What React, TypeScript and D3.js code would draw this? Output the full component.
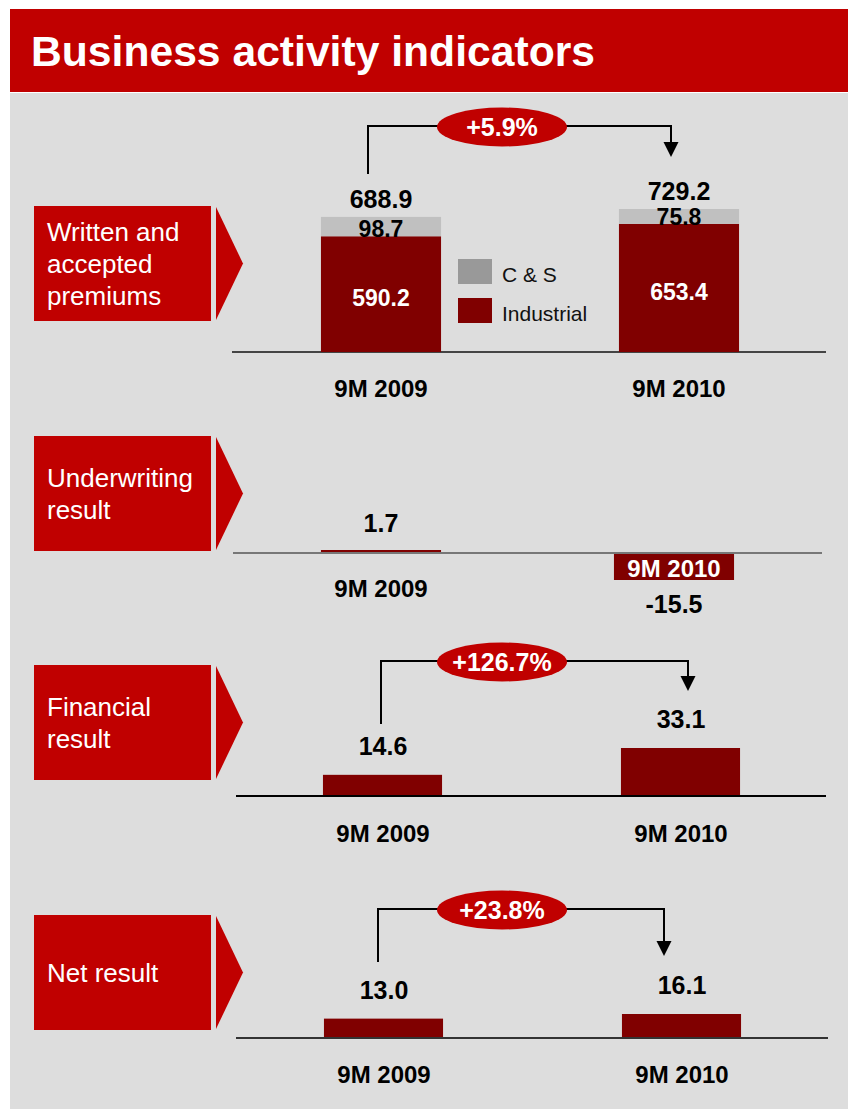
import React from "react";
import * as d3 from "d3";

const categories = ["9M 2009", "9M 2010"];
const industrialPremiums = [590.2, 653.4];
const csPremiums = [98.7, 75.8];
const premiumTotals = [688.9, 729.2];
const underwritingResult = [1.7, -15.5];
const financialResult = [14.6, 33.1];
const netResult = [13.0, 16.1];
const growthLabels = ["+5.9%", "+126.7%", "+23.8%"];
const legendLabels = ["C & S", "Industrial"];
const panelTitles = [
  ["Written and", "accepted", "premiums"],
  ["Underwriting", "result"],
  ["Financial", "result"],
  ["Net result"],
];

const RED = "#c00000";
const DARK = "#800000";
const CS = "#c0c0c0";
const FONT = "'Liberation Sans', Arial, sans-serif";

const fmt = d3.formatLocale({ decimal: ".", thousands: ",", grouping: [3], currency: ["", ""], minus: "-" }).format(".1f");

const x = d3
  .scaleBand<string>()
  .domain(categories)
  .range([232, 828])
  .paddingInner(0.597)
  .paddingOuter(0.2985);
const bw = x.bandwidth();
const cx = (c: string) => (x(c) as number) + bw / 2;
const ovalX = (cx(categories[0]) + cx(categories[1])) / 2 - 28;

// one y scale per panel
const yPrem = d3.scaleLinear().domain([0, d3.max(premiumTotals) as number]).range([352, 209]);
const yUw = d3.scaleLinear().domain([d3.min(underwritingResult) as number, d3.max(underwritingResult) as number]).range([580, 550]);
const yFin = d3.scaleLinear().domain([0, d3.max(financialResult) as number]).range([796, 748]);
const yNet = d3.scaleLinear().domain([0, d3.max(netResult) as number]).range([1038, 1014]);

const panelTops = [206, 436, 665, 915];

function LabelBox({ top, lines }: { top: number; lines: string[] }) {
  const mid = top + 57.5;
  return (
    <g>
      <rect x={34} y={top} width={177} height={115} fill={RED} />
      <polygon points={`216,${top + 1} 243,${mid} 216,${top + 114}`} fill={RED} />
      {lines.map((l, i) => (
        <text
          key={l}
          x={47}
          y={mid + 9 + (i - (lines.length - 1) / 2) * 32}
          fill="#fff"
          fontSize={26}
          fontFamily={FONT}
        >
          {l}
        </text>
      ))}
    </g>
  );
}

function Bracket({
  y,
  x1,
  x2,
  leftBottom,
  tip,
  label,
}: {
  y: number;
  x1: number;
  x2: number;
  leftBottom: number;
  tip: number;
  label: string;
}) {
  return (
    <g>
      <path
        d={`M${x1},${leftBottom}V${y}H${x2}V${tip - 14}`}
        fill="none"
        stroke="#000"
        strokeWidth={2}
      />
      <polygon points={`${x2 - 7.5},${tip - 15} ${x2 + 7.5},${tip - 15} ${x2},${tip}`} fill="#000" />
      <ellipse cx={ovalX} cy={y + 1} rx={65} ry={19.5} fill={RED} />
      <text
        x={ovalX}
        y={y + 10}
        textAnchor="middle"
        fill="#fff"
        fontWeight="bold"
        fontSize={25}
        fontFamily={FONT}
      >
        {label}
      </text>
    </g>
  );
}

const valueStyle = { fontFamily: FONT, fontWeight: "bold" as const, fontSize: 25 };

export default function App() {
  return (
    <svg
      width={848}
      height={1110}
      style={{ position: "absolute", left: 0, top: 0 }}
    >
      <rect x={10} y={93} width={838} height={1016} fill="#dddddd" />
      <rect x={10} y={9} width={838} height={83} fill={RED} />
      <text x={31} y={66} fill="#fff" fontWeight="bold" fontSize={43} fontFamily={FONT} textLength={564} lengthAdjust="spacingAndGlyphs">
        Business activity indicators
      </text>

      {panelTitles.map((lines, i) => (
        <LabelBox key={i} top={panelTops[i]} lines={lines} />
      ))}

      {/* Panel 1: premiums */}
      <line x1={232} x2={826} y1={yPrem(0)} y2={yPrem(0)} stroke="#444" strokeWidth={2} />
      {categories.map((c, i) => {
        const top = yPrem(industrialPremiums[i]);
        const totTop = yPrem(industrialPremiums[i] + csPremiums[i]);
        return (
          <g key={c}>
            <rect x={x(c)} y={top} width={bw} height={yPrem(0) - top} fill={DARK} />
            <rect x={x(c)} y={totTop} width={bw} height={top - totTop} fill={CS} />
            <text x={cx(c)} y={totTop - 9} textAnchor="middle" {...valueStyle}>
              {fmt(premiumTotals[i])}
            </text>
            <text x={cx(c)} y={top + 1} textAnchor="middle" {...valueStyle} fontSize={23}>
              {fmt(csPremiums[i])}
            </text>
            <text
              x={cx(c)}
              y={(top + yPrem(0)) / 2 + 12}
              textAnchor="middle"
              {...valueStyle}
              fontSize={23}
              fill="#fff"
            >
              {fmt(industrialPremiums[i])}
            </text>
            <text x={cx(c)} y={yPrem(0) + 45} textAnchor="middle" {...valueStyle} fontSize={24}>
              {c}
            </text>
          </g>
        );
      })}
      <rect x={458} y={259} width={34} height={25} fill="#999999" />
      <rect x={458} y={298} width={34} height={25} fill={DARK} />
      {legendLabels.map((l, i) => (
        <text key={l} x={502} y={282 + i * 39} fontSize={21} fontFamily={FONT} fill="#111">
          {l}
        </text>
      ))}
      <Bracket
        y={126}
        x1={cx(categories[0]) - 13}
        x2={cx(categories[1]) - 8}
        leftBottom={174}
        tip={157}
        label={growthLabels[0]}
      />

      {/* Panel 2: underwriting result */}
      {categories.map((c, i) => {
        const v = underwritingResult[i];
        const y0 = yUw(0);
        const yv = yUw(v);
        return (
          <g key={c}>
            <rect
              x={x(c)! - (v < 0 ? 5 : 0)}
              y={Math.min(y0, yv)}
              width={bw}
              height={Math.abs(yv - y0)}
              fill={DARK}
            />
            {v >= 0 ? (
              <>
                <text x={cx(c)} y={yv - 18} textAnchor="middle" {...valueStyle}>
                  {fmt(v)}
                </text>
                <text x={cx(c)} y={y0 + 44} textAnchor="middle" {...valueStyle} fontSize={24}>
                  {c}
                </text>
              </>
            ) : (
              <>
                <text x={cx(c) - 5} y={y0 + 24} textAnchor="middle" {...valueStyle} fontSize={24} fill="#fff">
                  {c}
                </text>
                <text x={cx(c) - 5} y={yv + 33} textAnchor="middle" {...valueStyle}>
                  {fmt(v)}
                </text>
              </>
            )}
          </g>
        );
      })}
      <line x1={233} x2={822} y1={yUw(0)} y2={yUw(0)} stroke="#777" strokeWidth={2} />

      {/* Panel 3: financial result */}
      <line x1={236} x2={826} y1={yFin(0)} y2={yFin(0)} stroke="#000" strokeWidth={2} />
      {categories.map((c, i) => {
        const yv = yFin(financialResult[i]);
        return (
          <g key={c}>
            <rect x={x(c)! + 2} y={yv} width={bw - 1} height={yFin(0) - yv - 1} fill={DARK} />
            <text x={cx(c) + 2} y={yv - 20} textAnchor="middle" {...valueStyle}>
              {fmt(financialResult[i])}
            </text>
            <text x={cx(c) + 2} y={yFin(0) + 46} textAnchor="middle" {...valueStyle} fontSize={24}>
              {c}
            </text>
          </g>
        );
      })}
      <Bracket
        y={661}
        x1={cx(categories[0])}
        x2={cx(categories[1]) + 9}
        leftBottom={724}
        tip={691}
        label={growthLabels[1]}
      />

      {/* Panel 4: net result */}
      <line x1={236} x2={828} y1={yNet(0)} y2={yNet(0)} stroke="#333" strokeWidth={2} />
      {categories.map((c, i) => {
        const yv = yNet(netResult[i]);
        return (
          <g key={c}>
            <rect x={x(c)! + 3} y={yv} width={bw - 1} height={yNet(0) - yv - 1} fill={DARK} />
            <text x={cx(c) + 3} y={yv - 20} textAnchor="middle" {...valueStyle}>
              {fmt(netResult[i])}
            </text>
            <text x={cx(c) + 3} y={yNet(0) + 45} textAnchor="middle" {...valueStyle} fontSize={24}>
              {c}
            </text>
          </g>
        );
      })}
      <Bracket
        y={909}
        x1={cx(categories[0]) - 3}
        x2={cx(categories[1]) - 15}
        leftBottom={962}
        tip={956}
        label={growthLabels[2]}
      />
    </svg>
  );
}
